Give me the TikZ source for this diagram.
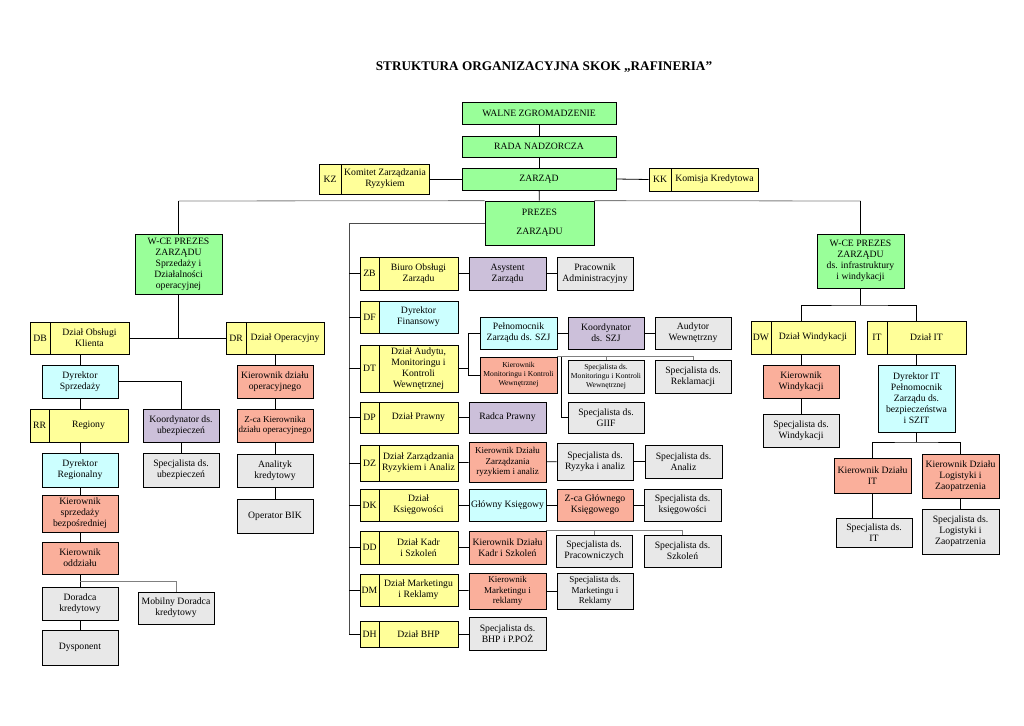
\documentclass[tikz,border=0pt]{standalone}
\usepackage{fontspec}
\setmainfont{Liberation Serif}
\usepackage{tikz}
\definecolor{cGreen}{RGB}{153,255,153}
\definecolor{cYellow}{RGB}{255,255,153}
\definecolor{cCyan}{RGB}{204,255,255}
\definecolor{cLilac}{RGB}{204,192,218}
\definecolor{cSalmon}{RGB}{250,175,155}
\definecolor{cGrey}{RGB}{232,232,232}

\begin{document}
\begin{tikzpicture}[x=1pt, y=-1pt,
  every node/.style={font=\fontsize{9.7}{11}\selectfont},
  box/.style={draw, line width=0.8pt, align=center, inner sep=1pt},
  sz/.style 2 args={minimum width=#1, minimum height=#2},
  zbox/.style={box, fill=cGreen},
  ybox/.style={box, fill=cYellow},
  cbox/.style={box, fill=cCyan},
  lbox/.style={box, fill=cLilac},
  sbox/.style={box, fill=cSalmon},
  gbox/.style={box, fill=cGrey, line width=1pt},
  small/.style={font=\fontsize{7.6}{9}\selectfont},
  mid/.style={font=\fontsize{9}{10.5}\selectfont},
  conn/.style={line width=0.8pt},
  gline/.style={gray, line width=0.8pt}]
  \useasboundingbox (0,0) rectangle (1024,725);
  \node[font=\bfseries\fontsize{13.2}{15}\selectfont] (tytul) at (544,67) {STRUKTURA ORGANIZACYJNA SKOK „RAFINERIA”};

  \node[zbox, sz={154}{22}] (walne) at (539,113) {WALNE ZGROMADZENIE};
  \node[zbox, sz={154}{21}] (rada) at (539,146.5) {RADA NADZORCZA};
  \node[zbox, sz={154}{22}] (zarzad) at (539,179) {ZARZĄD};
  \node[ybox, sz={22}{30}] (kzk) at (330,179) {KZ};
  \node[ybox, sz={88}{30}] (kz) at (385,179) {Komitet Zarządzania\\Ryzykiem};
  \node[ybox, sz={22}{23}] (kkk) at (660,179.5) {KK};
  \node[ybox, sz={87}{23}] (kk) at (714.5,179.5) {Komisja Kredytowa};
  \node[zbox, sz={109}{44}, font=\fontsize{9.7}{19}\selectfont] (prezes) at (539.5,223) {PREZES\\ZARZĄDU};

  \node[zbox, sz={87}{60}] (wcel) at (178.5,264) {W-CE PREZES\\ZARZĄDU\\Sprzedaży i\\Działalności\\operacyjnej};
  \node[ybox, sz={20}{32}] (dbk) at (40,338) {DB};
  \node[ybox, sz={79}{32}] (db) at (89.5,338) {Dział Obsługi\\Klienta};
  \node[ybox, sz={20}{32}] (drk) at (236,338) {DR};
  \node[ybox, sz={78}{32}] (dr) at (285,338) {Dział Operacyjny};
  \node[cbox, sz={76}{33}] (dsprz) at (80,381.5) {Dyrektor\\Sprzedaży};
  \node[sbox, sz={76}{33}] (kdo) at (275,381.5) {Kierownik działu\\operacyjnego};
  \node[ybox, sz={19}{33}] (rrk) at (39.5,425.5) {RR};
  \node[ybox, sz={79}{33}] (rr) at (88.5,425.5) {Regiony};
  \node[lbox, sz={76}{33}] (kubez) at (181,425.5) {Koordynator ds.\\ubezpieczeń};
  \node[sbox, sz={76}{33}, font=\fontsize{9}{10.5}\selectfont] (zcakdo) at (275,425.5) {Z-ca Kierownika\\działu operacyjnego};
  \node[cbox, sz={76}{34}] (dreg) at (80,470) {Dyrektor\\Regionalny};
  \node[gbox, sz={76}{34}] (subez) at (181,470) {Specjalista ds.\\ubezpieczeń};
  \node[gbox, sz={76}{33}] (analityk) at (275,470.5) {Analityk\\kredytowy};
  \node[sbox, sz={76}{37}] (ksb) at (80,513.5) {Kierownik\\sprzedaży\\bezpośredniej};
  \node[gbox, sz={76}{34}] (bik) at (275,516) {Operator BIK};
  \node[sbox, sz={76}{32}] (kodz) at (80,558) {Kierownik\\oddziału};
  \node[gbox, sz={76}{33}] (doradca) at (80,603.5) {Doradca\\kredytowy};
  \node[gbox, sz={76}{32}] (mobilny) at (176,608) {Mobilny Doradca\\kredytowy};
  \node[gbox, sz={76}{35}] (dysp) at (80,647.5) {Dysponent};

  \node[ybox, sz={19}{33}] (zbk) at (369.5,273.5) {ZB};
  \node[ybox, sz={79}{33}] (zb) at (418.5,273.5) {Biuro Obsługi\\Zarządu};
  \node[lbox, sz={77}{33}] (asyst) at (507.5,273.5) {Asystent\\Zarządu};
  \node[gbox, sz={76}{33}] (pracadm) at (595,273.5) {Pracownik\\Administracyjny};
  \node[ybox, sz={19}{32}] (dfk) at (369.5,317) {DF};
  \node[cbox, sz={79}{32}] (df) at (418.5,317) {Dyrektor\\Finansowy};
  \node[ybox, sz={19}{47}] (dtk) at (369.5,368.5) {DT};
  \node[ybox, sz={79}{47}] (dt) at (418.5,368.5) {Dział Audytu,\\Monitoringu i\\Kontroli\\Wewnętrznej};
  \node[cbox, sz={77}{32}] (peln) at (518.5,333) {Pełnomocnik\\Zarządu ds. SZJ};
  \node[lbox, sz={76}{32}] (kszj) at (606,333) {Koordynator\\ds. SZJ};
  \node[gbox, sz={76}{32}] (audytor) at (693,333) {Audytor\\Wewnętrzny};
  \node[sbox, sz={77}{36}, small] (kmon) at (518.5,375) {Kierownik\\Monitoringu i Kontroli\\Wewnętrznej};
  \node[gbox, sz={76}{33}, small] (smon) at (606,376.5) {Specjalista ds.\\Monitoringu i Kontroli\\Wewnętrznej};
  \node[gbox, sz={76}{33}] (srekl) at (693,376.5) {Specjalista ds.\\Reklamacji};
  \node[gbox, sz={76}{31}] (sgiif) at (606,417.5) {Specjalista ds.\\GIIF};
  \node[ybox, sz={19}{31}] (dpk) at (369.5,417.5) {DP};
  \node[ybox, sz={79}{31}] (dp) at (418.5,417.5) {Dział Prawny};
  \node[lbox, sz={77}{31}] (radca) at (507.5,417.5) {Radca Prawny};
  \node[ybox, sz={19}{36}] (dzk) at (369.5,463) {DZ};
  \node[ybox, sz={79}{36}] (dz) at (418.5,463) {Dział Zarządzania\\Ryzykiem i Analiz};
  \node[sbox, sz={77}{40}, mid] (kdz) at (507.5,462) {Kierownik Działu\\Zarządzania\\ryzykiem i analiz};
  \node[gbox, sz={76}{37}] (sryz) at (595,461.5) {Specjalista ds.\\Ryzyka i analiz};
  \node[gbox, sz={77}{33}] (sanaliz) at (683.5,461.5) {Specjalista ds.\\Analiz};
  \node[ybox, sz={19}{32}] (dkk) at (369.5,505) {DK};
  \node[ybox, sz={79}{32}] (dk) at (418.5,505) {Dział\\Księgowości};
  \node[cbox, sz={77}{32}] (glowny) at (507.5,505) {Główny Księgowy};
  \node[sbox, sz={76}{32}] (zcagl) at (595,505) {Z-ca Głównego\\Księgowego};
  \node[gbox, sz={77}{32}] (sksieg) at (682.5,505) {Specjalista ds.\\księgowości};
  \node[ybox, sz={19}{33}] (ddk) at (369.5,547.5) {DD};
  \node[ybox, sz={79}{33}] (dd) at (418.5,547.5) {Dział Kadr\\i Szkoleń};
  \node[sbox, sz={77}{33}] (kkadr) at (507.5,547.5) {Kierownik Działu\\Kadr i Szkoleń};
  \node[gbox, sz={76}{32}] (sprac) at (594,551) {Specjalista ds.\\Pracowniczych};
  \node[gbox, sz={77}{32}] (sszkol) at (682.5,551) {Specjalista ds.\\Szkoleń};
  \node[ybox, sz={19}{32}] (dmk) at (369.5,590) {DM};
  \node[ybox, sz={79}{32}] (dm) at (418.5,590) {Dział Marketingu\\i Reklamy};
  \node[sbox, sz={77}{36}, mid] (kmark) at (507.5,591) {Kierownik\\Marketingu i\\reklamy};
  \node[gbox, sz={76}{36}, mid] (smark) at (595,591) {Specjalista ds.\\Marketingu i\\Reklamy};
  \node[ybox, sz={19}{26}] (dhk) at (369.5,634.5) {DH};
  \node[ybox, sz={79}{26}] (dh) at (418.5,634.5) {Dział BHP};
  \node[gbox, sz={77}{33}] (sbhp) at (507.5,633.5) {Specjalista ds.\\BHP i P.POŻ};

  \node[zbox, sz={87}{54}] (wcer) at (860.5,261) {W-CE PREZES\\ZARZĄDU\\ds. infrastruktury\\i windykacji};
  \node[ybox, sz={20}{33}] (dwk) at (761,337.5) {DW};
  \node[ybox, sz={84}{33}] (dw) at (813,337.5) {Dział Windykacji};
  \node[ybox, sz={20}{33}] (itk) at (877,337.5) {IT};
  \node[ybox, sz={79}{33}] (it) at (926.5,337.5) {Dział IT};
  \node[sbox, sz={76}{33}] (kwin) at (801,381.5) {Kierownik\\Windykacji};
  \node[gbox, sz={76}{33}] (swin) at (801,430.5) {Specjalista ds.\\Windykacji};
  \node[cbox, sz={77}{67}] (dit) at (916.5,398.5) {Dyrektor IT\\Pełnomocnik\\Zarządu ds.\\bezpieczeństwa\\i SZIT};
  \node[sbox, sz={77}{35}] (kit) at (872.5,475.5) {Kierownik Działu\\IT};
  \node[sbox, sz={77}{44}] (klog) at (960.5,476) {Kierownik Działu\\Logistyki i\\Zaopatrzenia};
  \node[gbox, sz={76}{29}] (sit) at (874,532.5) {Specjalista ds.\\IT};
  \node[gbox, sz={77}{45}] (slog) at (960.5,531.5) {Specjalista ds.\\Logistyki i\\Zaopatrzenia};

  \coordinate (hl) at (178.5,201);
  \coordinate (hr) at (860.5,201);
  \coordinate (spine) at (349,634.5);
  \coordinate (dtb) at (468,368.5);
  \coordinate (giif) at (561,357);
  \coordinate (kodzb) at (80,581);
  \coordinate (wcerb) at (860.5,305);
  \coordinate (ditb) at (916.5,442);

  \draw[conn] (walne) -- (rada);
  \draw[conn] (rada) -- (zarzad);
  \draw[conn] (kz.east) -- (zarzad.west);
  \draw[conn] (zarzad.east) -- (kkk.west);
  \draw[conn] (zarzad) -- (prezes);
  \draw[gline] (hl) -- (prezes.north west);
  \draw[gline] (prezes.north east) -- (hr);
  \draw[conn] (hl) -- (wcel.north);
  \draw[conn] (hr) -- (wcer.north);

  \draw[conn] (wcel.south) -- (wcel.south |- db.east);
  \draw[conn] (db.east) -- (drk.west);
  \draw[conn] (dsprz.north |- db.south) -- (dsprz.north);
  \draw[conn] (kdo.north |- dr.south) -- (kdo.north);
  \draw[conn] (dsprz.east) -| (kubez.north);
  \draw[conn] (dsprz.south) -- (dsprz.south |- rr.north);
  \draw[conn] (kdo) -- (zcakdo);
  \draw[conn] (zcakdo) -- (analityk);
  \draw[conn] (analityk) -- (bik);
  \draw[conn] (kubez) -- (subez);
  \draw[conn] (dreg.north |- rr.south) -- (dreg.north);
  \draw[conn] (dreg) -- (ksb);
  \draw[conn] (ksb) -- (kodz);
  \draw[conn] (kodz) -- (doradca);
  \draw[conn] (doradca) -- (dysp);
  \draw[gline] (kodzb) -| (mobilny.north);

  \draw[gray!60!black, line width=0.8pt] (prezes.west) -| (spine);
  \draw[conn] (zbk.west -| spine) -- (zbk.west);
  \draw[conn] (dfk.west -| spine) -- (dfk.west);
  \draw[conn] (dtk.west -| spine) -- (dtk.west);
  \draw[conn] (dpk.west -| spine) -- (dpk.west);
  \draw[conn] (dzk.west -| spine) -- (dzk.west);
  \draw[conn] (dkk.west -| spine) -- (dkk.west);
  \draw[conn] (ddk.west -| spine) -- (ddk.west);
  \draw[conn] (dmk.west -| spine) -- (dmk.west);
  \draw[conn] (spine) -- (dhk.west);
  \draw[conn] (zb) -- (asyst);
  \draw[conn] (asyst) -- (pracadm);
  \draw[conn] (dt.east) -- (dtb);
  \draw[conn] (peln.west) -| (dtb);
  \draw[conn] (kmon.west) -| (dtb);
  \draw[conn] (peln) -- (kszj);
  \draw[conn] (kszj) -- (audytor);
  \draw[gline] (kmon.north east) -| (srekl.north);
  \draw[gline] (smon.north |- kmon.north) -- (smon.north);
  \draw[conn] (giif) |- (sgiif.west);
  \draw[conn] (dp) -- (radca);
  \draw[conn] (dz) -- (kdz);
  \draw[conn] (kdz) -- (sryz);
  \draw[conn] (sryz) -- (sanaliz);
  \draw[conn] (dk) -- (glowny);
  \draw[conn] (glowny) -- (zcagl);
  \draw[conn] (zcagl) -- (sksieg);
  \draw[conn] (dd) -- (kkadr);
  \draw[gline] (kkadr.north east) -| (sszkol.north);
  \draw[gline] (sprac.north |- kkadr.north) -- (sprac.north);
  \draw[conn] (dm) -- (kmark);
  \draw[conn] (kmark) -- (smark);
  \draw[conn] (dh.east) -- (dh.east -| sbhp.west);

  \draw[conn] (wcer.south) -- (wcerb);
  \draw[conn] (kwin.north |- dw.north) |- (wcerb) -| (dit.north |- it.north);
  \draw[conn] (kwin.north |- dw.south) -- (kwin.north);
  \draw[conn] (kwin) -- (swin);
  \draw[conn] (dit.north |- it.south) -- (dit.north);
  \draw[conn] (dit.south) -- (ditb);
  \draw[conn] (kit.north) |- (ditb) -| (klog.north);
  \draw[conn] (kit.south) -- (kit.south |- sit.north);
  \draw[conn] (klog) -- (slog);
\end{tikzpicture}
\end{document}
